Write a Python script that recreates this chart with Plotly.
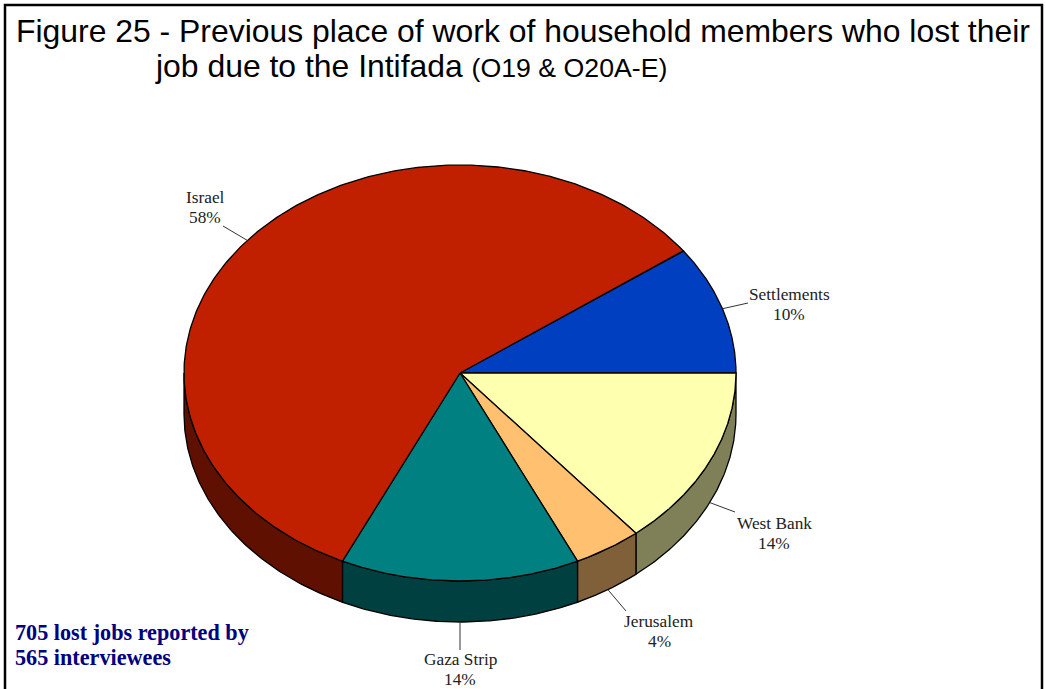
import numpy as np
import plotly.graph_objects as go

# Survey shares by previous place of work, in drawing order (clockwise from START_DEG)
categories = ["Settlements", "West Bank", "Jerusalem", "Gaza Strip", "Israel"]
shares = [10, 14, 4, 14, 58]
top_colors = ["#0040C0", "#FFFFB0", "#FFC070", "#008080", "#C02000"]
side_colors = ["#002060", "#808058", "#806038", "#004040", "#601000"]

title_line_1 = "Figure 25 - Previous place of work of household members who lost their"
title_line_2 = "job due to the Intifada"
title_note = "(O19 &amp; O20A-E)"
footnote_lines = ["705 lost jobs reported by", "565 interviewees"]

# Projection of the tilted disc, in page pixels
WIDTH, HEIGHT = 1046, 689
CX, CY, RX, RY = 460, 373, 276, 208
DEPTH = 41
START_DEG = 36

# Label centre (name line, percent line is below) for each category
label_x = [789, 774, 659, 460, 205]
label_y = [294, 523, 621, 659.5, 197]
LINE_GAP = 20
# Where each leader line stops, next to its label
leader_end_x = [748, 735, 626, 460, 223]
leader_end_y = [303, 512, 611, 650, 226]


def rim(t_deg, drop=0.0):
    t = np.radians(t_deg)
    return CX + RX * np.cos(t), CY - RY * np.sin(t) + drop


fig = go.Figure()


def add_poly(xs, ys, fill, width=1.3):
    fig.add_trace(go.Scatter(
        x=xs, y=ys, mode="lines", fill="toself", fillcolor=fill,
        line=dict(color="black", width=width), hoverinfo="skip", showlegend=False,
    ))


bounds = START_DEG - np.cumsum([0] + shares) * 3.6
spans = list(zip(bounds[:-1], bounds[1:]))

# Side wall: only the front half of the rim (0 to -180 degrees) can be seen
for (a, b), side in zip(spans, side_colors):
    lo, hi = max(b, -180), min(a, 0)
    if hi <= lo:
        continue
    t = np.linspace(hi, lo, 120)
    x_top, y_top = rim(t)
    x_bot, y_bot = rim(t[::-1], DEPTH)
    add_poly(np.r_[x_top, x_bot, x_top[0]], np.r_[y_top, y_bot, y_top[0]], side)

# Top faces
for (a, b), top in zip(spans, top_colors):
    t = np.linspace(a, b, 300)
    x_arc, y_arc = rim(t)
    add_poly(np.r_[CX, x_arc, CX], np.r_[CY, y_arc, CY], top)

# Leader lines start at the mid-angle of each slice, on the wall when it faces front
for (a, b), ex, ey in zip(spans, leader_end_x, leader_end_y):
    mid = (a + b) / 2
    wrapped = (mid + 180) % 360 - 180
    drop = DEPTH if wrapped < 0 else 0
    sx, sy = rim(mid, drop)
    fig.add_trace(go.Scatter(
        x=[sx, ex], y=[sy, ey], mode="lines",
        line=dict(color="#333333", width=1), hoverinfo="skip", showlegend=False,
    ))

# Frame: open at the bottom edge
fig.add_trace(go.Scatter(
    x=[5, 5, 1042, 1042], y=[HEIGHT, 5, 5, HEIGHT], mode="lines",
    line=dict(color="black", width=2.5), hoverinfo="skip", showlegend=False,
))

annotations = []


def add_text(x, y, text, family, size, color="black", anchor="center", bold=False):
    annotations.append(dict(
        x=x, y=y, xref="x", yref="y", text=f"<b>{text}</b>" if bold else text,
        showarrow=False, xanchor=anchor, yanchor="middle",
        font=dict(family=family, size=size, color=color),
    ))


SANS = "Liberation Sans, Arial, sans-serif"
SERIF = "Liberation Serif, Times New Roman, serif"
add_text(14, 31, title_line_1, SANS, 31.9, anchor="left")
add_text(153, 66, f'{title_line_2} <span style="font-size:26.7px">{title_note}</span>',
         SANS, 31.9, anchor="left")

for name, share, lx, ly in zip(categories, shares, label_x, label_y):
    add_text(lx, ly, name, SERIF, 17.3, color="#222222")
    add_text(lx, ly + LINE_GAP, f"{share}%", SERIF, 17.3, color="#222222")

for i, line in enumerate(footnote_lines):
    add_text(13, 632 + i * 25, line, SERIF, 22.2, color="#000080", anchor="left", bold=True)

fig.update_layout(
    width=WIDTH, height=HEIGHT,
    margin=dict(l=0, r=0, t=0, b=0),
    paper_bgcolor="white", plot_bgcolor="white",
    annotations=annotations,
    xaxis=dict(range=[0, WIDTH], visible=False, fixedrange=True),
    yaxis=dict(range=[HEIGHT, 0], visible=False, fixedrange=True),
)

fig.write_html("out.html", config={"displayModeBar": False})
